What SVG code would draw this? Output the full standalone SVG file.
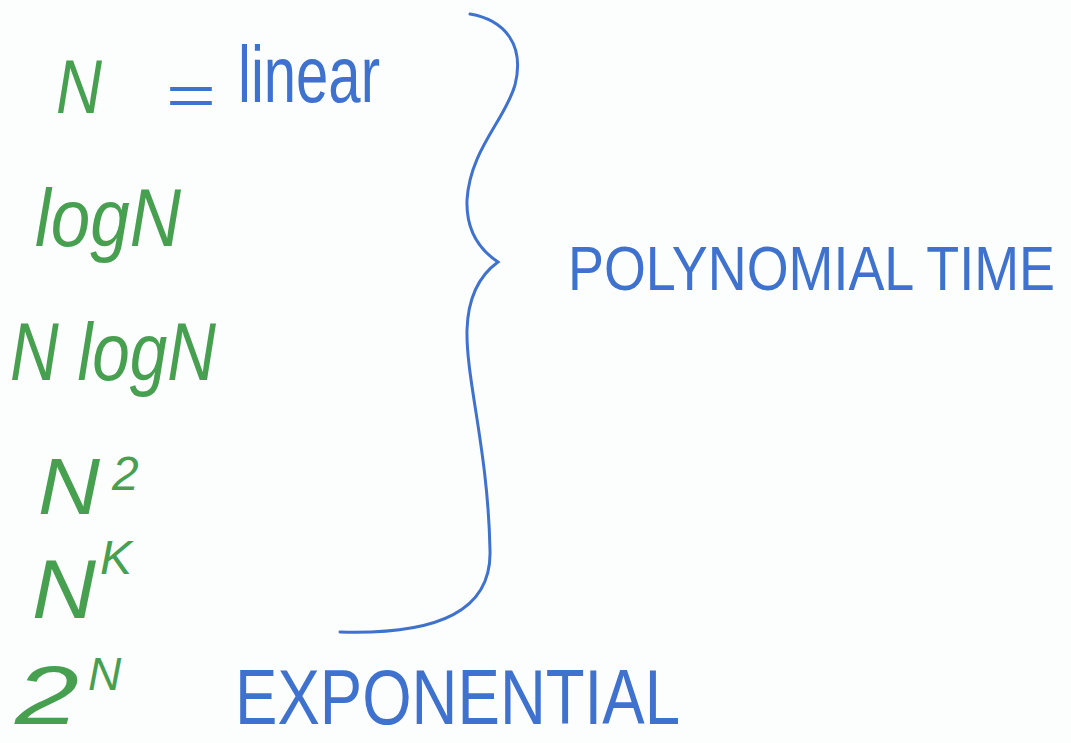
<svg xmlns="http://www.w3.org/2000/svg" width="1071" height="743" viewBox="0 0 1071 743">
<style>
.g{fill:#47a050;font-family:"Liberation Sans",Arial,sans-serif;font-style:italic}
.b{fill:#3f72cf;font-family:"Liberation Sans",Arial,sans-serif}
.brace{fill:none;stroke:#3f72cf;stroke-width:3;stroke-linecap:round}
</style>
<rect width="1071" height="743" fill="#fcfdfd"/>
<g id="n-linear">
<text class="g" x="56" y="113" font-size="76" textLength="46" lengthAdjust="spacingAndGlyphs">N</text>
<text class="b" x="166" y="114" font-size="56" textLength="50" lengthAdjust="spacingAndGlyphs">=</text>
<text class="b" x="238" y="102" font-size="80" textLength="142" lengthAdjust="spacingAndGlyphs">linear</text>
</g>
<g id="logn">
<text class="g" x="35" y="246" font-size="82" textLength="146" lengthAdjust="spacingAndGlyphs">logN</text>
</g>
<g id="nlogn">
<text class="g" x="10" y="380" font-size="82" textLength="206" lengthAdjust="spacingAndGlyphs">N logN</text>
</g>
<g id="n2">
<text class="g" x="38" y="514" font-size="80" textLength="62" lengthAdjust="spacingAndGlyphs">N</text>
<text class="g" x="112" y="490" font-size="48">2</text>
</g>
<g id="nk">
<text class="g" x="32" y="618" font-size="84" textLength="64" lengthAdjust="spacingAndGlyphs">N</text>
<text class="g" x="100" y="574" font-size="48">K</text>
</g>
<g id="twon">
<text class="g" x="15" y="724" font-size="84" textLength="64" lengthAdjust="spacingAndGlyphs">2</text>
<text class="g" x="88" y="690" font-size="46">N</text>
</g>
<g id="polynomial">
<text class="b" transform="translate(568,290) scale(1,1.18)" x="0" y="0" font-size="53" textLength="487" lengthAdjust="spacingAndGlyphs">POLYNOMIAL TIME</text>
</g>
<g id="exponential">
<text class="b" x="235" y="724" font-size="78" textLength="445" lengthAdjust="spacingAndGlyphs">EXPONENTIAL</text>
</g>
<g id="connectors">
<path class="brace" d="M470 14 C505 20 525 45 515 85 C505 120 470 150 467 200 C466 230 480 250 498 262 C480 275 468 295 467 330 C466 380 488 450 490 550 C492 610 440 635 340 632"/>
</g>
</svg>
